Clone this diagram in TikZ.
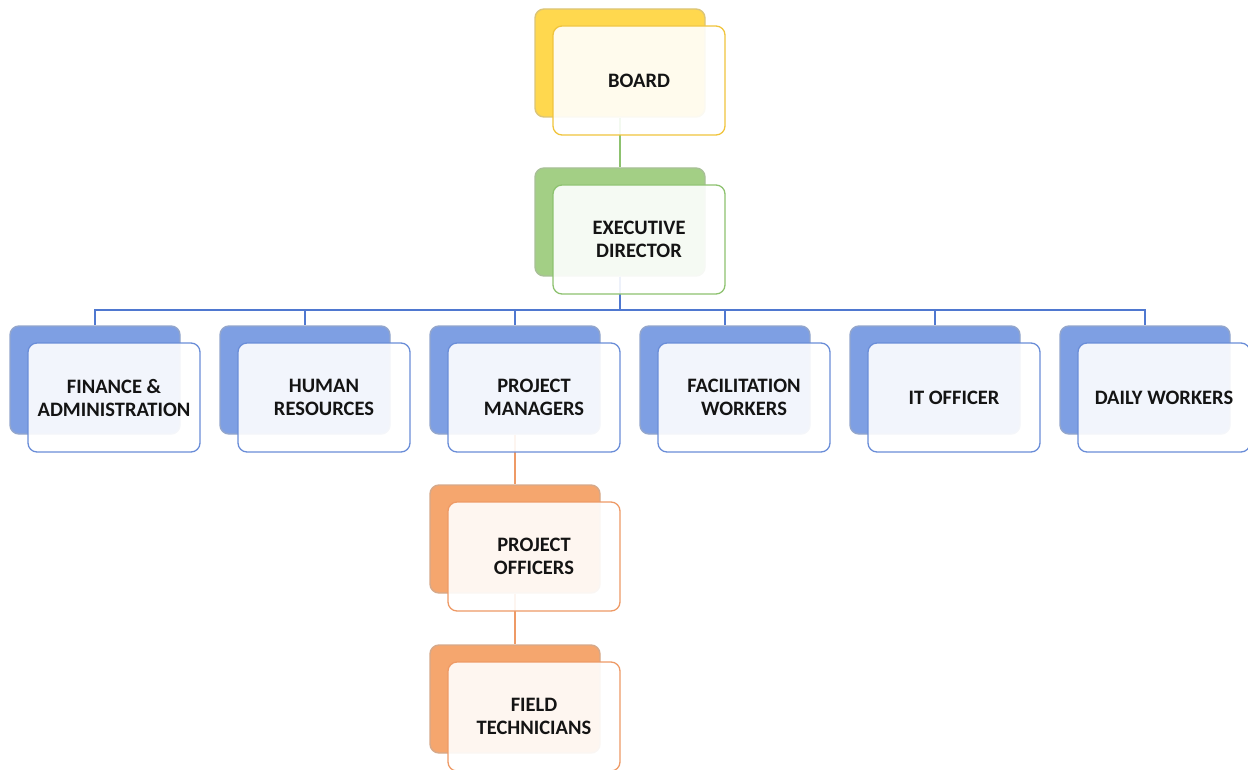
\documentclass[tikz,border=0pt]{standalone}
\usepackage{fontspec}
\setmainfont{Carlito}
\begin{document}
\begin{tikzpicture}[x=1pt,y=-1pt,
  backbox/.style={rounded corners=9pt, minimum width=170pt, minimum height=108pt, inner sep=0pt, line width=1.4pt},
  frontbox/.style={rounded corners=9pt, minimum width=172pt, minimum height=109pt, inner sep=0pt,
    fill=white, fill opacity=0.9, text opacity=1, line width=1.3pt, align=center,
    font=\fontsize{20.5}{23}\selectfont\bfseries, text=black!92},
  link/.style={line width=1.3pt}]
\definecolor{yelBack}{HTML}{FFD84E}
\definecolor{yelEdge}{HTML}{F0C43C}
\definecolor{grnBack}{HTML}{A3CF85}
\definecolor{grnEdge}{HTML}{8DC26F}
\definecolor{bluBack}{HTML}{7E9FE3}
\definecolor{bluEdge}{HTML}{6A8DD8}
\definecolor{bluLine}{HTML}{4F78D0}
\definecolor{orgBack}{HTML}{F5A66E}
\definecolor{orgEdge}{HTML}{EE9A66}
\useasboundingbox (0,0) rectangle (1248,770);

% back panels (x,y = top-left corner)
\newcommand{\backpanel}[4]{%
  \node[backbox, fill=#4, draw=#4!80!black!70] (#1) at (#2+85,#3+54) {};}
\newcommand{\frontpanel}[5]{%
  \node[frontbox, draw=#4] (#1) at (#2+104,#3+71.5) {#5};}

\backpanel{boardB}{535}{9}{yelBack}
\backpanel{execB}{535}{168}{grnBack}
\backpanel{finB}{10}{326}{bluBack}
\backpanel{hrB}{220}{326}{bluBack}
\backpanel{pmB}{430}{326}{bluBack}
\backpanel{facB}{640}{326}{bluBack}
\backpanel{itB}{850}{326}{bluBack}
\backpanel{dwB}{1060}{326}{bluBack}
\backpanel{poB}{430}{485}{orgBack}
\backpanel{ftB}{430}{645}{orgBack}

% connectors
\coordinate (bus) at (0,310);
\draw[link, grnEdge] (boardB.south) -- (execB.north);
\foreach \n in {finB,hrB,pmB,facB,itB,dwB}
  \draw[link, bluLine] (execB.south) -- (execB.south |- bus) -| (\n.north);
\draw[link, orgEdge] (pmB.south) -- (poB.north);
\draw[link, orgEdge] (poB.south) -- (ftB.north);

% front panels with labels
\frontpanel{board}{535}{9}{yelEdge}{BOARD}
\frontpanel{exec}{535}{168}{grnEdge}{EXECUTIVE\\DIRECTOR}
\frontpanel{fin}{10}{326}{bluEdge}{FINANCE \&\\ADMINISTRATION}
\frontpanel{hr}{220}{326}{bluEdge}{HUMAN\\RESOURCES}
\frontpanel{pm}{430}{326}{bluEdge}{PROJECT\\MANAGERS}
\frontpanel{fac}{640}{326}{bluEdge}{FACILITATION\\WORKERS}
\frontpanel{it}{850}{326}{bluEdge}{IT OFFICER}
\frontpanel{dw}{1060}{326}{bluEdge}{DAILY WORKERS}
\frontpanel{po}{430}{485}{orgEdge}{PROJECT\\OFFICERS}
\frontpanel{ft}{430}{645}{orgEdge}{FIELD\\TECHNICIANS}
\end{tikzpicture}
\end{document}
